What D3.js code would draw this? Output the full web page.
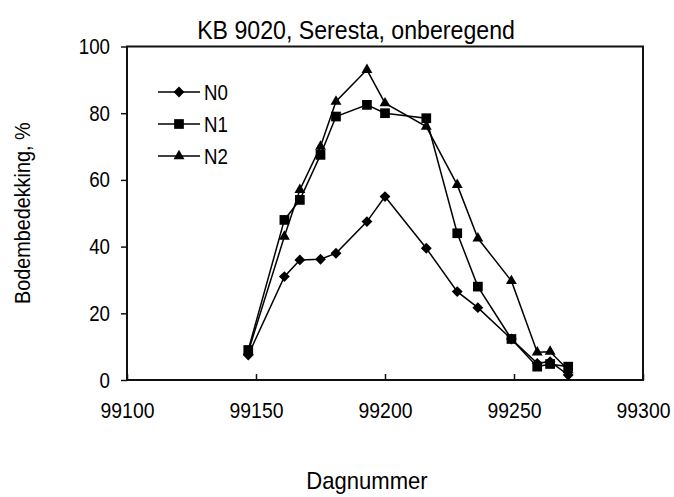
<!DOCTYPE html>
<html>
<head>
<meta charset="utf-8">
<script src="https://cdn.jsdelivr.net/npm/d3@7"></script>
<style>
  html, body { margin: 0; padding: 0; background: #fff; }
  svg { display: block; }
  text { font-family: "Liberation Sans", Arial, sans-serif; fill: #000; }
</style>
</head>
<body>
<svg id="chart" width="674" height="497"></svg>
<script>
// Day numbers of the observations
const days = [99147, 99161, 99167, 99175, 99181, 99193, 99200, 99216, 99228, 99236, 99249, 99259, 99264, 99271];
// Soil cover (%) per nitrogen level
const n0 = [7.5, 31, 36, 36.2, 38, 47.5, 55, 39.5, 26.5, 21.7, 12.3, 5, 5.5, 1.5];
const n1 = [9, 48, 54, 67.5, 79, 82.5, 80, 78.5, 44, 28, 12.3, 4, 4.8, 4];
const n2 = [8.5, 43, 57, 70, 83.5, 93, 83, 76, 58.5, 42.5, 29.7, 8.3, 8.5, 3];
const seriesNames = ["N0", "N1", "N2"];
const xTicks = [99100, 99150, 99200, 99250, 99300];
const yTicks = [0, 20, 40, 60, 80, 100];

const svg = d3.select("#chart");
const m = { left: 127, right: 643, top: 46.5, bottom: 380 };
const narrow = sx => `scale(${sx},1)`;   // condensed lettering

const x = d3.scaleLinear().domain([99100, 99300]).range([m.left, m.right]);
const y = d3.scaleLinear().domain([0, 100]).range([m.bottom, m.top]);

// Places a condensed text label at (px, py)
function label(px, py, str, size, anchor, sx, rot) {
  return svg.append("text")
    .attr("transform", `translate(${px},${py})` + (rot ? ` rotate(${rot})` : "") + " " + narrow(sx))
    .attr("text-anchor", anchor)
    .style("font-size", size + "px")
    .text(str);
}

// Title
label(356, 39, "KB 9020, Seresta, onberegend", 26, "middle", 0.89);

// Plot frame
svg.append("rect")
  .attr("x", m.left).attr("y", m.top)
  .attr("width", m.right - m.left).attr("height", m.bottom - m.top)
  .attr("fill", "none").attr("stroke", "#111").attr("stroke-width", 2);

// Y axis: outward ticks
const yAxis = d3.axisLeft(y).tickValues(yTicks).tickSize(6).tickPadding(14).tickFormat(d3.format("d"));
const gy = svg.append("g").attr("transform", `translate(${m.left},0)`).call(yAxis);
gy.select(".domain").remove();
gy.selectAll(".tick line").attr("stroke", "#111").attr("stroke-width", 1.5);
gy.selectAll(".tick text")
  .style("font-size", "22px").style("font-family", null)
  .attr("transform", narrow(0.85));

// X axis: inward ticks
const xAxis = d3.axisBottom(x).tickValues(xTicks).tickSizeInner(-6).tickSizeOuter(0).tickPadding(22).tickFormat(d3.format("d"));
const gx = svg.append("g").attr("transform", `translate(0,${m.bottom})`).call(xAxis);
gx.select(".domain").remove();
gx.selectAll(".tick line").attr("stroke", "#111").attr("stroke-width", 1.5);
gx.selectAll(".tick text")
  .style("font-size", "22px").style("font-family", null)
  .attr("transform", narrow(0.88));

// Axis titles
label(30, (m.top + m.bottom) / 2, "Bodembedekking, %", 22, "middle", 0.9, -90);
label(367, 489, "Dagnummer", 24, "middle", 0.92);

// Marker shapes
const symbols = [d3.symbolDiamond2, d3.symbolSquare2, d3.symbolTriangle2];
const symbolSizes = [75, 120, 85];

const line = d3.line().x(d => x(d[0])).y(d => y(d[1]));
const allSeries = [n0, n1, n2];

allSeries.forEach((vals, i) => {
  const pts = days.map((d, k) => [d, vals[k]]);
  const g = svg.append("g");
  g.append("path")
    .attr("d", line(pts))
    .attr("fill", "none").attr("stroke", "#000").attr("stroke-width", 1.5);
  g.selectAll("path.mk").data(pts).join("path")
    .attr("class", "mk")
    .attr("transform", d => `translate(${x(d[0])},${y(d[1])})`)
    .attr("d", d3.symbol().type(symbols[i]).size(symbolSizes[i]))
    .attr("fill", "#000");
});

// Legend
const legend = svg.append("g");
seriesNames.forEach((name, i) => {
  const ly = 92 + i * 32;
  legend.append("line")
    .attr("x1", 158).attr("x2", 200).attr("y1", ly).attr("y2", ly)
    .attr("stroke", "#000").attr("stroke-width", 1.5);
  legend.append("path")
    .attr("transform", `translate(179,${ly})`)
    .attr("d", d3.symbol().type(symbols[i]).size(symbolSizes[i]))
    .attr("fill", "#000");
  label(204, ly + 8, name, 22, "start", 0.85);
});
</script>
</body>
</html>
